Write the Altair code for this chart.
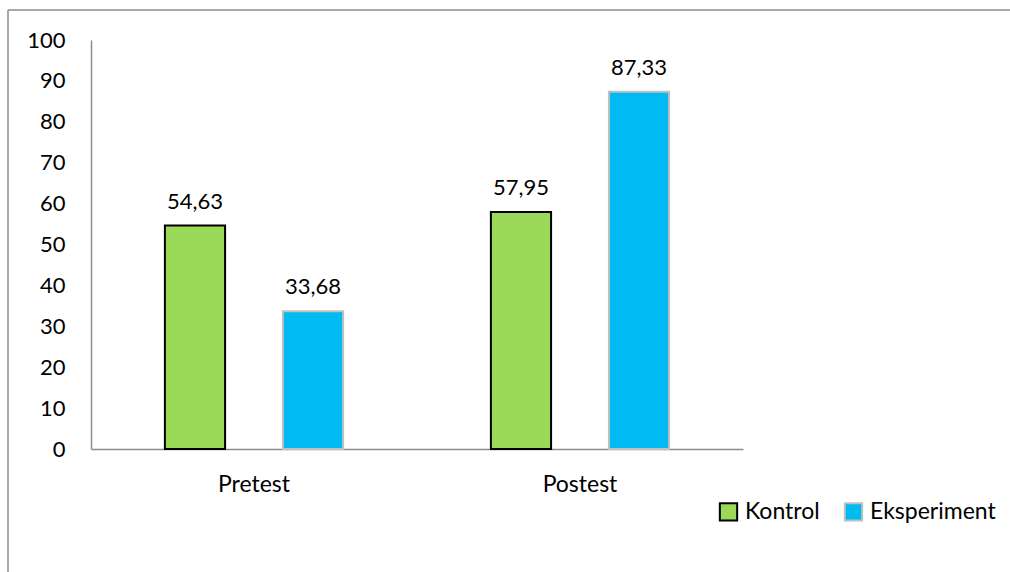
import altair as alt
import pandas as pd

tests = ["Pretest", "Pretest", "Postest", "Postest"]
groups = ["Kontrol", "Eksperiment", "Kontrol", "Eksperiment"]
values = [54.63, 33.68, 57.95, 87.33]
test_order = ["Pretest", "Postest"]
group_order = ["Kontrol", "Eksperiment"]
fill_colors = ["#9BD959", "#00BAF2"]
stroke_colors = ["#000000", "#C0C0C0"]

df = pd.DataFrame({"Test": tests, "Group": groups, "Value": values})
df["Label"] = [f"{v:.2f}".replace(".", ",") for v in values]

FONT = "Lato"
NUM = 22
WORD = 23

base = alt.Chart(df).encode(
    x=alt.X("Test:N", sort=test_order, title=None,
            scale=alt.Scale(paddingInner=0, paddingOuter=0),
            axis=alt.Axis(labelAngle=0, ticks=False, domainColor="#8C8C8C", domainWidth=1.5,
                          labelFontSize=WORD, labelFont=FONT, labelColor="#000000", labelPadding=24)),
    xOffset=alt.XOffset("Group:N", sort=group_order,
                        scale=alt.Scale(paddingInner=0.49, paddingOuter=0.626)),
)

bars = base.mark_bar(strokeWidth=2).encode(
    y=alt.Y("Value:Q", title=None,
            scale=alt.Scale(domain=[0, 100]),
            axis=alt.Axis(values=list(range(0, 101, 10)), ticks=False, grid=False,
                          domainColor="#8C8C8C", domainWidth=1.5,
                          labelFontSize=NUM, labelFont=FONT, labelColor="#000000", labelPadding=26)),
    fill=alt.Fill("Group:N", sort=group_order,
                  scale=alt.Scale(domain=group_order, range=fill_colors),
                  legend=alt.Legend(title=None, orient="none", direction="horizontal",
                                    legendX=626, legendY=460, symbolType="square",
                                    symbolSize=300, symbolStrokeWidth=2,
                                    labelFontSize=WORD, labelFont=FONT, labelColor="#000000",
                                    columnPadding=20, labelOffset=5)),
    stroke=alt.Stroke("Group:N", sort=group_order,
                      scale=alt.Scale(domain=group_order, range=stroke_colors)),
)

labels = base.mark_text(baseline="alphabetic", dy=-17, fontSize=NUM, font=FONT, color="#000000").encode(
    y=alt.Y("Value:Q"),
    text="Label:N",
)

frame_data = alt.Data(values=[{"a": 1}])
left_line = alt.Chart(frame_data).mark_rule(color="#8C8C8C", strokeWidth=1.5).encode(
    x=alt.value(-83), y=alt.value(-30), y2=alt.value(540))
top_line = alt.Chart(frame_data).mark_rule(color="#8C8C8C", strokeWidth=1.5).encode(
    x=alt.value(-83), x2=alt.value(930), y=alt.value(-30))

chart = alt.layer(left_line, top_line, bars, labels).properties(
    width=652, height=409,
    autosize=alt.AutoSizeParams(type="none"),
    padding={"left": 91, "top": 40, "right": 267, "bottom": 123},
).configure(background="#FFFFFF").configure_view(strokeWidth=0, stroke=None)

chart.save("out.html", embed_options={"renderer": "svg", "actions": False})
